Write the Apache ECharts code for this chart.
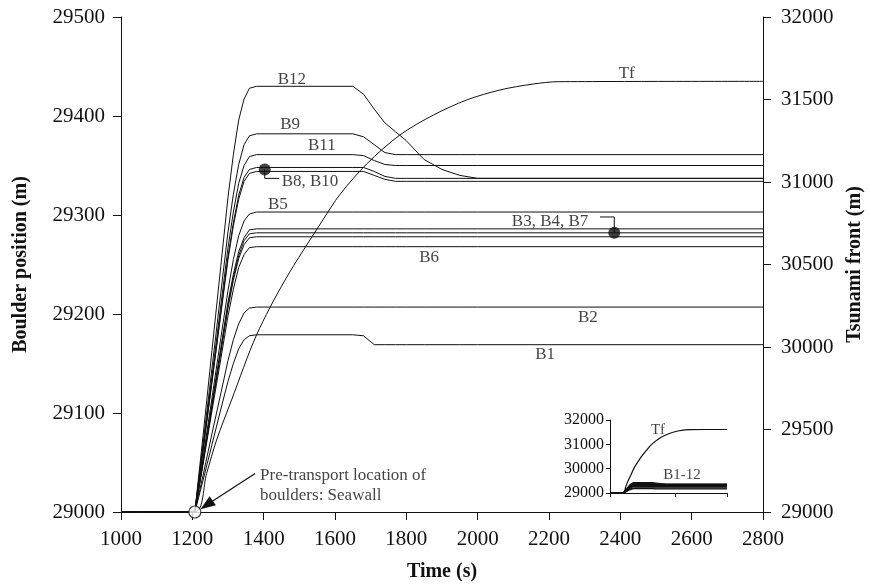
<!DOCTYPE html>
<html><head><meta charset="utf-8">
<script src="https://cdn.jsdelivr.net/npm/echarts@6/dist/echarts.min.js"></script>
<style>html,body{margin:0;padding:0;background:#fff}#c{width:870px;height:585px}</style>
</head><body><div id="c"></div>
<script>
// ---- data ----
const boulderTimes = [1000,1207,1230,1255,1280,1300,1315,1330,1345,1360,1380,1650,1680,1710,1740,1770,1800,1850,1900,1950,2000,2800];
const B12 = [29000,29000,29077,29163,29249,29318,29361,29396,29417,29428,29430,29430,29422,29407,29393,29384,29375,29356,29346,29340,29337,29337];
const B9  = [29000,29000,29069,29145,29222,29283,29321,29351,29371,29380,29382,29382,29379,29371,29363,29361,29361,29361,29361,29361,29361,29361];
const B11 = [29000,29000,29065,29137,29209,29267,29303,29332,29350,29359,29361,29361,29360,29355,29351,29350,29350,29350,29350,29350,29350,29350];
const B8  = [29000,29000,29063,29132,29202,29258,29292,29320,29338,29346,29348,29348,29348,29344,29339,29337,29337,29337,29337,29337,29337,29337];
const B10 = [29000,29000,29062,29131,29200,29255,29289,29316,29334,29342,29344,29344,29344,29340,29336,29334,29334,29334,29334,29334,29334,29334];
const B5  = [29000,29000,29055,29115,29176,29224,29255,29279,29294,29301,29303,29303,29303,29303,29303,29303,29303,29303,29303,29303,29303,29303];
const B3  = [29000,29000,29051,29109,29166,29212,29240,29263,29277,29285,29286,29286,29286,29286,29286,29286,29286,29286,29286,29286,29286,29286];
const B4  = [29000,29000,29051,29107,29164,29209,29237,29259,29274,29281,29282,29282,29282,29282,29282,29282,29282,29282,29282,29282,29282,29282];
const B7  = [29000,29000,29050,29106,29161,29206,29234,29256,29270,29277,29278,29278,29278,29278,29278,29278,29278,29278,29278,29278,29278,29278];
const B6  = [29000,29000,29048,29102,29155,29198,29225,29247,29260,29267,29268,29268,29268,29268,29268,29268,29268,29268,29268,29268,29268,29268];
const B2  = [29000,29000,29037,29079,29120,29153,29174,29190,29201,29206,29207,29207,29207,29207,29207,29207,29207,29207,29207,29207,29207,29207];
const B1  = [29000,29000,29032,29068,29104,29132,29150,29165,29174,29178,29179,29179,29178,29169,29169,29169,29169,29169,29169,29169,29169,29169];

const tfTimes  = [1000,1207,1240,1268,1310,1380,1460,1566,1614,1689,1782,1876,1969,2063,2156,2226,2800];
const tfValues = [29000,29000,29234,29436,29679,30073,30406,30770,30925,31110,31285,31406,31497,31558,31594,31608,31610];

const boulderNames = ['B12','B9','B11','B8','B10','B5','B3','B4','B7','B6','B2','B1'];
const boulderValues = [B12,B9,B11,B8,B10,B5,B3,B4,B7,B6,B2,B1];

// marked boulders (filled dots) and start point (open dot)
const dotPoints = [[1403,29346],[2383,29282]];
const startPoint = [1207,29000];

// text labels: [text, time, boulder position]
const mainLabels = [
  ['B12',1479,29437],['B9',1474,29391],['B11',1563,29370],['B8, B10',1530,29334],
  ['B5',1440,29311],['B3, B4, B7',2203,29293],['B6',1864,29257],['B2',2309,29196],
  ['B1',2189,29159],['Tf',2418,29443]
];
const insetLabels = [['Tf',1738,31594],['B1-12',2108,29721]];
const leaderB3 = [[2343,29298],[2383,29298],[2383,29282]];
const leaderB8 = [[1403,29346],[1403,29337],[1443,29337]];
const arrowFrom = [1376,29039];
const arrowTo = [1240,29007];
const noteText = 'Pre-transport location of\nboulders: Seawall';
const notePos = [1390,29027];

// ---- chart ----
const FONT = "'Liberation Serif','Times New Roman',serif";
const pair = (t, v) => t.map((x, i) => [x, v[i]]);
const lineStyle = {color:'#111', width:1};
const plain = v => String(v);

const series = [];
boulderValues.forEach((vals, i) => {
  series.push({type:'line', name:boulderNames[i], xAxisIndex:0, yAxisIndex:0, data:pair(boulderTimes, vals),
    showSymbol:false, symbol:'none', lineStyle, silent:true, z:2});
  series.push({type:'line', name:boulderNames[i]+'-inset', xAxisIndex:1, yAxisIndex:2, data:pair(boulderTimes, vals),
    showSymbol:false, symbol:'none', lineStyle:{color:'#111', width:1.3}, silent:true, z:2});
});
series.push({type:'line', name:'Tf', xAxisIndex:0, yAxisIndex:1, data:pair(tfTimes, tfValues),
  showSymbol:false, symbol:'none', smooth:0.3, lineStyle, silent:true, z:2});
series.push({type:'line', name:'Tf-inset', xAxisIndex:1, yAxisIndex:2, data:pair(tfTimes, tfValues),
  showSymbol:false, symbol:'none', smooth:0.3, lineStyle:{color:'#111', width:1.2}, silent:true, z:2});

// leader lines
[leaderB3, leaderB8].forEach(d => series.push({type:'line', xAxisIndex:0, yAxisIndex:0, data:d,
  showSymbol:false, symbol:'none', lineStyle:{color:'#111', width:1}, silent:true, z:3}));

// annotation arrow
series.push({type:'line', xAxisIndex:0, yAxisIndex:0, data:[arrowFrom, arrowTo],
  showSymbol:false, symbol:'none', lineStyle:{color:'#111', width:1.2}, silent:true, z:4,
  markPoint:{silent:true, animation:false, symbol:'triangle', symbolSize:[11,15], symbolRotate:125,
    itemStyle:{color:'#111'}, label:{show:false},
    data:[{coord:arrowTo}]}});

// dots
series.push({type:'scatter', xAxisIndex:0, yAxisIndex:0, data:dotPoints, symbol:'circle', symbolSize:12,
  itemStyle:{color:'#111'}, silent:true, z:5});
series.push({type:'scatter', xAxisIndex:0, yAxisIndex:0, data:[startPoint], symbol:'circle', symbolSize:12,
  itemStyle:{color:'#fff', borderColor:'#111', borderWidth:1.2}, silent:true, z:6});

// text labels
series.push({type:'scatter', xAxisIndex:0, yAxisIndex:0, symbolSize:0, silent:true, z:7,
  data:mainLabels.map(l => ({name:l[0], value:[l[1], l[2]]})),
  label:{show:true, position:'inside', formatter:p => p.name, color:'#111', fontFamily:FONT, fontSize:17}});
series.push({type:'scatter', xAxisIndex:1, yAxisIndex:2, symbolSize:0, silent:true, z:7,
  data:insetLabels.map(l => ({name:l[0], value:[l[1], l[2]]})),
  label:{show:true, position:'inside', formatter:p => p.name, color:'#111', fontFamily:FONT, fontSize:15}});
series.push({type:'scatter', xAxisIndex:0, yAxisIndex:0, symbolSize:0, silent:true, z:7,
  data:[{name:noteText, value:notePos}],
  label:{show:true, position:'inside', align:'left', formatter:p => p.name, color:'#111', fontFamily:FONT, fontSize:17, lineHeight:20}});

const axisCommon = {
  axisLine:{show:true, onZero:false, lineStyle:{color:'#111', width:1}},
  axisTick:{show:true, inside:false, length:8, lineStyle:{color:'#111', width:1}},
  splitLine:{show:false},
  nameTextStyle:{color:'#111', fontFamily:FONT, fontSize:20, fontWeight:'bold'}
};
const mainLabel = m => ({color:'#111', fontFamily:FONT, fontSize:21, margin:m, formatter:plain});

const option = {
  animation:false,
  backgroundColor:'#fff',
  grid:[
    {left:121, right:107, top:17, bottom:73, containLabel:false, outerBoundsMode:'none'},
    {left:610, right:143, top:420, bottom:92, containLabel:false, outerBoundsMode:'none'}
  ],
  xAxis:[
    Object.assign({}, axisCommon, {type:'value', gridIndex:0, min:1000, max:2800, interval:200,
      name:'Time (s)', nameLocation:'middle', nameGap:50, axisLabel:mainLabel(17)}),
    {type:'value', gridIndex:1, min:1000, max:2800, interval:1000,
      axisLine:{show:true, onZero:false, lineStyle:{color:'#111', width:1}},
      axisTick:{show:true, length:4, lineStyle:{color:'#111'}}, axisLabel:{show:false}, splitLine:{show:false}}
  ],
  yAxis:[
    Object.assign({}, axisCommon, {type:'value', gridIndex:0, min:29000, max:29500, interval:100, position:'left',
      name:'Boulder position (m)', nameLocation:'middle', nameGap:90, nameRotate:90, axisLabel:mainLabel(16)}),
    Object.assign({}, axisCommon, {type:'value', gridIndex:0, min:29000, max:32000, interval:500, position:'right',
      name:'Tsunami front (m)', nameLocation:'middle', nameGap:80, nameRotate:90, axisLabel:mainLabel(18)}),
    {type:'value', gridIndex:1, min:29000, max:32000, interval:1000, position:'left',
      axisLine:{show:true, onZero:false, lineStyle:{color:'#111', width:1}},
      axisTick:{show:true, length:4, lineStyle:{color:'#111'}}, splitLine:{show:false},
      axisLabel:{color:'#111', fontFamily:FONT, fontSize:16, margin:6, formatter:plain}}
  ],
  series
};

const chart = echarts.init(document.getElementById('c'), null, {renderer:'canvas'});
chart.setOption(option);
</script>
</body></html>
